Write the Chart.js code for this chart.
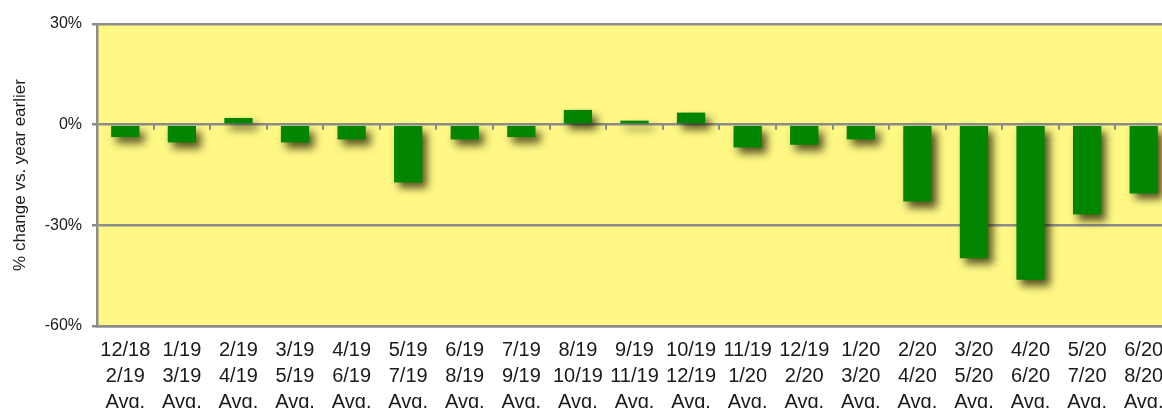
<!DOCTYPE html>
<html>
<head>
<meta charset="utf-8">
<script src="https://cdn.jsdelivr.net/npm/chart.js@4/dist/chart.umd.min.js"></script>
<style>
  html, body { margin: 0; padding: 0; background: #fff; overflow: hidden; }
  #wrap { width: 1180px; height: 408px; }
</style>
</head>
<body>
<div id="wrap"><canvas id="chart" width="1180" height="408"></canvas></div>
<script>
// ── Data ────────────────────────────────────────────────────────────────────
const START_MONTHS = ['12/18','1/19','2/19','3/19','4/19','5/19','6/19','7/19','8/19','9/19',
                      '10/19','11/19','12/19','1/20','2/20','3/20','4/20','5/20','6/20'];
const END_MONTHS   = ['2/19','3/19','4/19','5/19','6/19','7/19','8/19','9/19','10/19','11/19',
                      '12/19','1/20','2/20','3/20','4/20','5/20','6/20','7/20','8/20'];
const PCT_CHANGE   = [-3.7, -5.3, 2.0, -5.3, -4.4, -17.2, -4.4, -3.7, 4.4, 1.2,
                      3.6, -6.8, -6.0, -4.4, -22.9, -39.8, -46.2, -26.8, -20.5];
const Y_MIN = -60, Y_MAX = 30, Y_STEP = 30;

// ── Style ───────────────────────────────────────────────────────────────────
const PLOT_BG = '#fff885';
const BAR     = '#028602';
const AXIS    = '#8c8c8c';
const TEXT    = '#1a1a1a';

const labels = START_MONTHS.map((s, i) => [s, END_MONTHS[i], 'Avg.']);

// yellow plot area
const plotBg = {
  id: 'plotBg',
  beforeDraw(chart) {
    const { ctx, chartArea: a } = chart;
    ctx.save();
    ctx.fillStyle = PLOT_BG;
    ctx.fillRect(a.left, a.top, a.right - a.left, a.bottom - a.top);
    ctx.restore();
  },
};

// little category ticks hanging off the 0% line
const zeroTicks = {
  id: 'zeroTicks',
  beforeDatasetsDraw(chart) {
    const { ctx, scales: { x, y } } = chart;
    const y0 = y.getPixelForValue(0);
    const half = (x.getPixelForValue(1) - x.getPixelForValue(0)) / 2;
    ctx.save();
    ctx.strokeStyle = AXIS;
    ctx.lineWidth = 2;
    for (let i = 1; i < labels.length; i++) {
      const px = Math.round(x.getPixelForValue(i) - half);
      ctx.beginPath();
      ctx.moveTo(px, y0);
      ctx.lineTo(px, y0 + 5);
      ctx.stroke();
    }
    ctx.restore();
  },
};

// soft drop shadow behind the bars
const barShadow = {
  id: 'barShadow',
  beforeDatasetsDraw(chart) {
    const c = chart.ctx;
    c.save();
    c.shadowColor = 'rgba(30,30,0,0.75)';
    c.shadowBlur = 8;
    c.shadowOffsetX = 5;
    c.shadowOffsetY = 6;
  },
  afterDatasetsDraw(chart) {
    chart.ctx.restore();
  },
};

new Chart(document.getElementById('chart').getContext('2d'), {
  type: 'bar',
  data: {
    labels,
    datasets: [{
      label: '% change',
      data: PCT_CHANGE,
      backgroundColor: BAR,
      borderWidth: 0,
      categoryPercentage: 1.0,
      barPercentage: 0.5,
    }],
  },
  options: {
    responsive: false, animation: false, devicePixelRatio: 1,
    layout: { padding: { top: 24, right: 8, left: 0, bottom: 0 } },
    plugins: { legend: { display: false }, tooltip: { enabled: false } },
    scales: {
      x: {
        offset: true,
        grid: { display: false },
        border: { display: true, color: AXIS, width: 2.5 },
        ticks: {
          color: TEXT, maxRotation: 0, autoSkip: false, padding: 3,
          font: { family: '"Liberation Sans Narrow", "Liberation Sans", Arial', size: 20, lineHeight: 1.3 },
        },
        afterFit(s) { s.height = 82; },
      },
      y: {
        min: Y_MIN, max: Y_MAX,
        grid: { color: AXIS, lineWidth: 2.5, tickLength: 5 },
        border: { display: true, color: AXIS, width: 2.5 },
        ticks: {
          stepSize: Y_STEP, padding: 10, color: TEXT,
          font: { family: '"Liberation Sans", Arial', size: 16 },
          callback: v => v + '%',
        },
        title: {
          display: true, text: '% change vs. year earlier', color: TEXT,
          font: { family: '"Liberation Sans", Arial', size: 17 },
          padding: { top: 10, bottom: 0 },
        },
        afterFit(s) { s.width = 97; },
      },
    },
  },
  plugins: [plotBg, zeroTicks, barShadow],
});
</script>
</body>
</html>
